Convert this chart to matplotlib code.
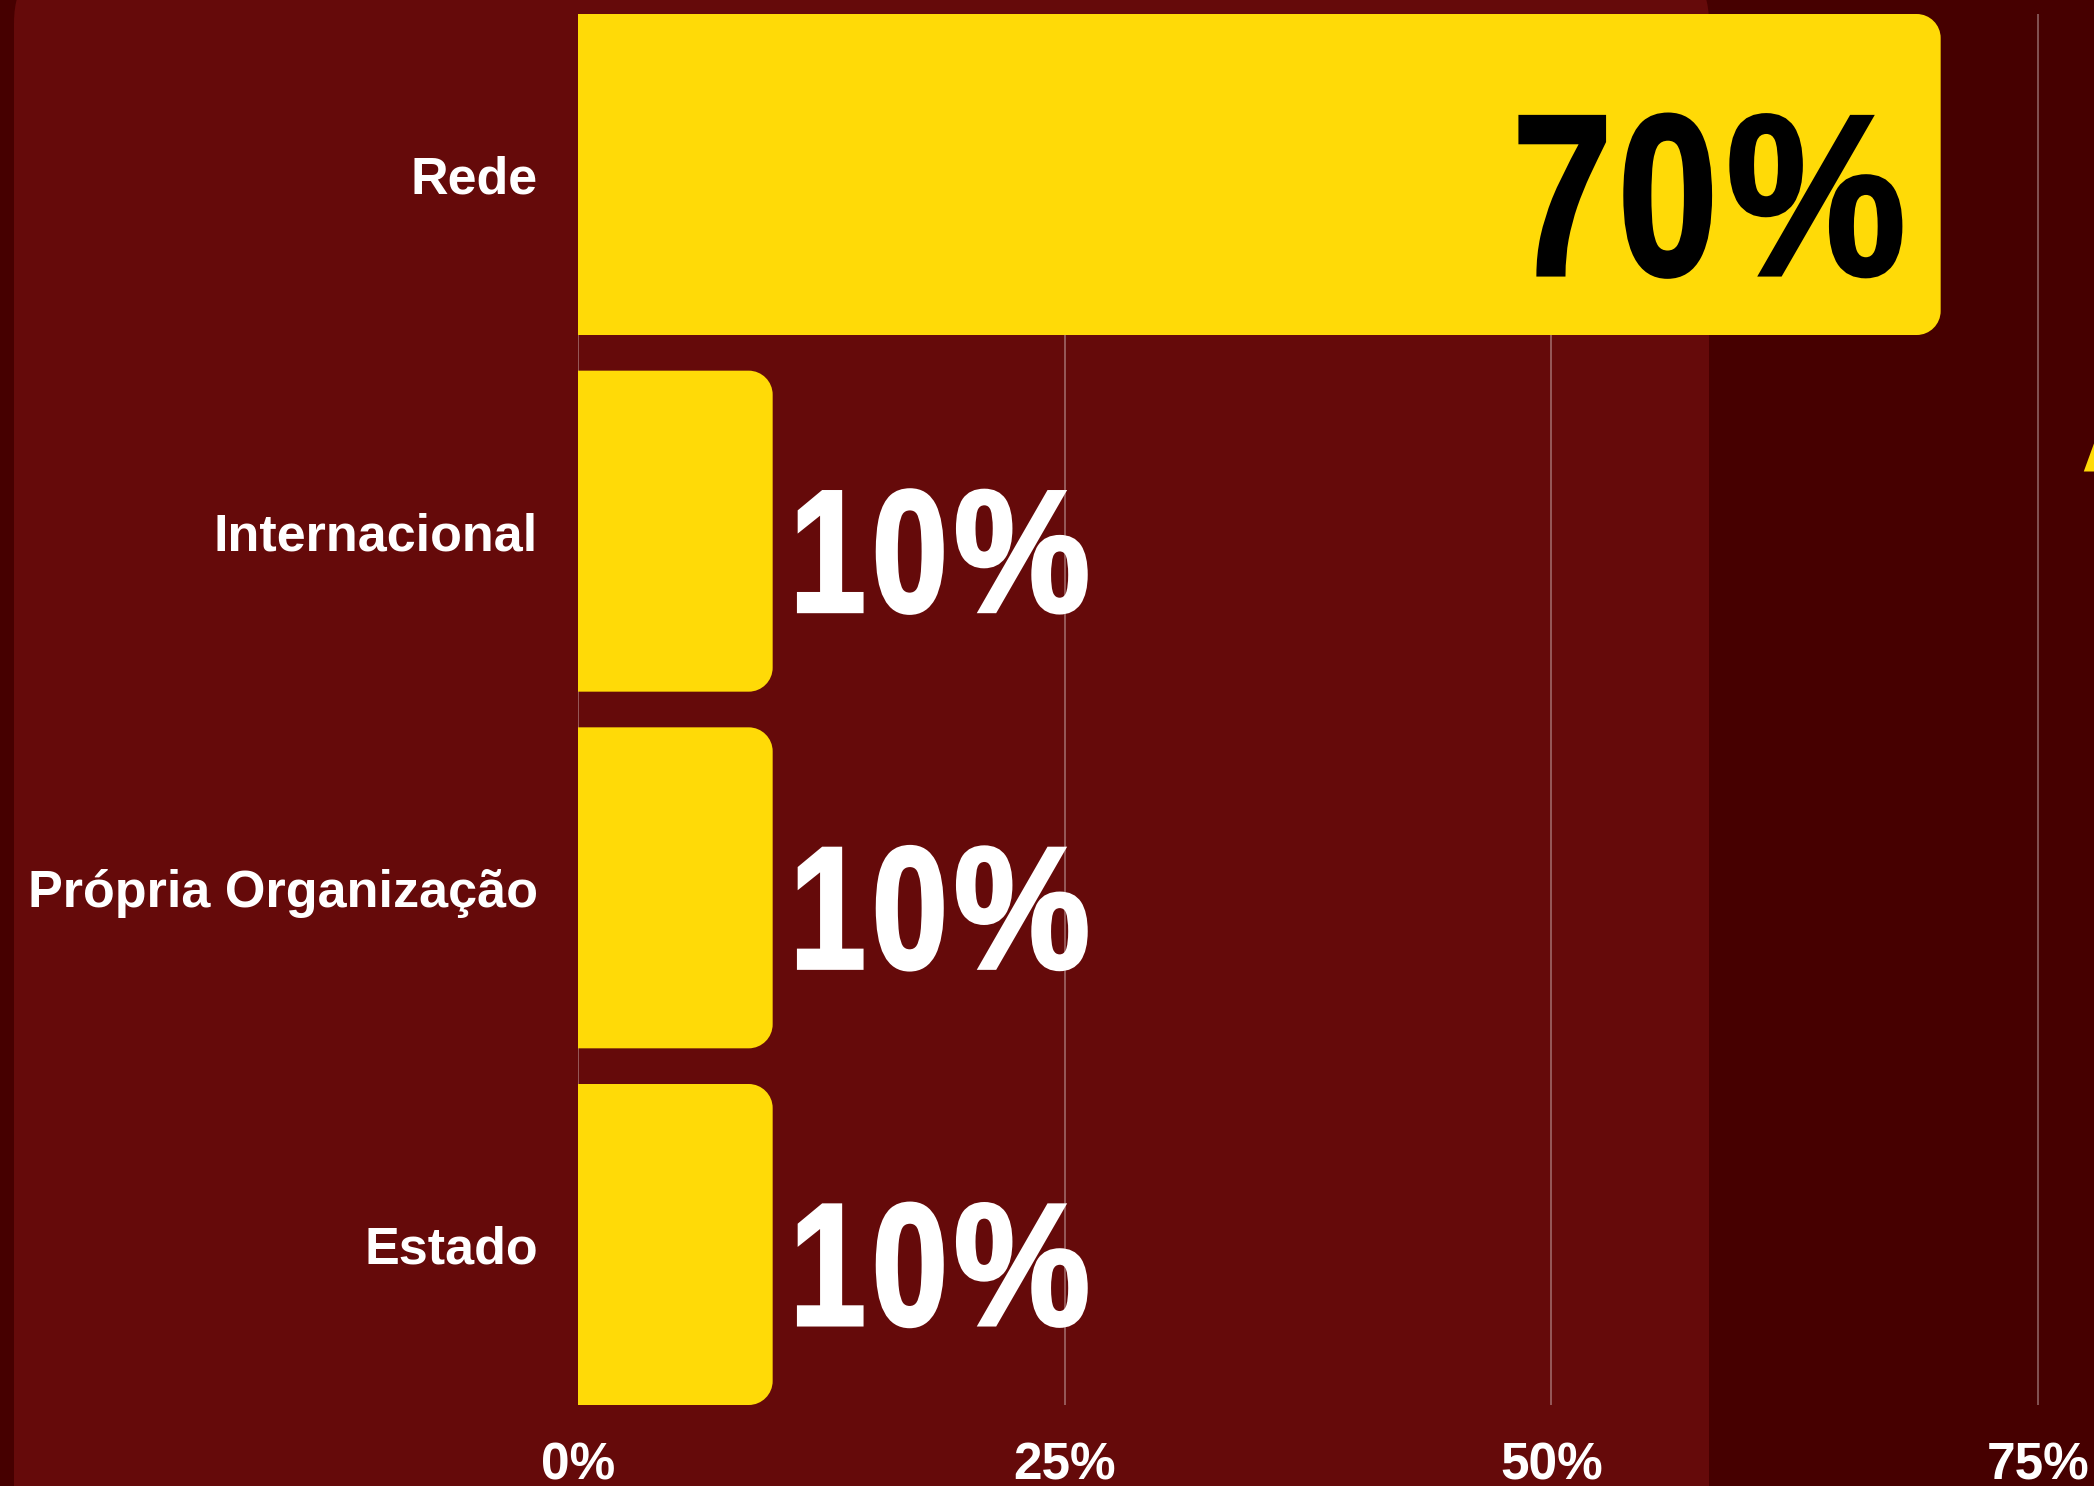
import matplotlib.pyplot as plt
from matplotlib.patches import FancyBboxPatch, PathPatch
from matplotlib.path import Path
from matplotlib.textpath import TextPath
from matplotlib.font_manager import FontProperties
from matplotlib.transforms import Affine2D, IdentityTransform

# data
categories = ['Rede', 'Internacional', 'Própria Organização', 'Estado']
values = [70, 10, 10, 10]
ticks = [0, 25, 50, 75]
tick_labels = ['0%', '25%', '50%', '75%']

W, H, DPI = 2094, 1486, 100
outer_bg = '#460000'
panel_bg = '#650A0A'
yellow = '#FFDA07'
label_font = ['Liberation Sans', 'DejaVu Sans']
bold_prop = FontProperties(family='Liberation Sans', weight='bold')

fig = plt.figure(figsize=(W / DPI, H / DPI), dpi=DPI, facecolor=outer_bg)

# inner panel of the infographic (runs past the top and bottom of the crop)
panel = FancyBboxPatch((14 / W, -0.1), (1709 - 14) / W, 1.1 + 40 / H,
                       boxstyle='round,pad=0,rounding_size=0.03',
                       mutation_aspect=W / H, transform=fig.transFigure,
                       facecolor=panel_bg, edgecolor='none', zorder=-5)
fig.patches.append(panel)

ax_left, ax_bottom = 578 / W, (H - 1405) / H
ax = fig.add_axes([ax_left, ax_bottom, 1 - ax_left, 1391 / H])
ax.set_facecolor('none')
ax.set_zorder(1)

n = len(categories)
ypos = list(range(n))
bar_h = 0.9
xmax = 75 * (W - 578) / (2038 - 578)
ax.set_xlim(0, xmax)
ax.set_ylim(n - 1 + bar_h / 2, -bar_h / 2)

# rounded right ends: radius in pixels converted to data units
r_px = 24
rx = r_px * xmax / (W - 578)
ry = r_px * (n - 1 + bar_h) / 1391
k = 0.5523


def right_rounded(x0, y0, w, h):
    x1, y1 = x0 + w, y0 + h
    verts = [(x0, y0), (x1 - rx, y0),
             (x1 - rx + k * rx, y0), (x1, y0 + ry - k * ry), (x1, y0 + ry),
             (x1, y1 - ry),
             (x1, y1 - ry + k * ry), (x1 - rx + k * rx, y1), (x1 - rx, y1),
             (x0, y1), (x0, y0)]
    codes = [Path.MOVETO, Path.LINETO,
             Path.CURVE4, Path.CURVE4, Path.CURVE4,
             Path.LINETO,
             Path.CURVE4, Path.CURVE4, Path.CURVE4,
             Path.LINETO, Path.CLOSEPOLY]
    return Path(verts, codes)


bars = ax.barh(ypos, values, height=bar_h, color=yellow, zorder=3)
for b in bars:
    ax.add_patch(PathPatch(right_rounded(b.get_x(), b.get_y(), b.get_width(), b.get_height()),
                           facecolor=yellow, edgecolor='none', zorder=3))
    b.set_visible(False)


def condensed_label(text, x, y, size_px, color, inside):
    # narrow display-style number: glyphs squeezed, spaced by their ink
    gap = 0.09 * size_px
    paths = []
    cursor = 0
    for ch in text:
        sx = 0.88 if ch == '%' else 0.78
        tp = TextPath((0, 0), ch, size=size_px, prop=bold_prop)
        p = Affine2D().scale(sx, 1).transform_path(tp)
        e = p.get_extents()
        paths.append(Affine2D().translate(cursor - e.x0, 0).transform_path(p))
        cursor += e.width + gap
    full = Path.make_compound_path(*paths)
    ext = full.get_extents()
    px, py = ax.transData.transform((x, y))
    cap = 0.716 * size_px
    base = py - 18 - cap / 2
    if inside:
        tx = px - 40 - ext.x1
    else:
        tx = px + 26 - ext.x0
    ax.add_patch(PathPatch(Affine2D().translate(tx, base).transform_path(full),
                           transform=IdentityTransform(),
                           facecolor=color, edgecolor=color, linewidth=2.5,
                           zorder=4, clip_on=False))


for y, v in zip(ypos, values):
    if v >= 50:
        condensed_label(f'{v}%', v, y, 230, 'black', True)
    else:
        condensed_label(f'{v}%', v, y, 174, 'white', False)

ax.set_yticks(ypos)
ax.set_yticklabels(categories, fontsize=37.5, fontweight='bold',
                   color='white', family=label_font)
ax.set_xticks(ticks)
ax.set_xticklabels(tick_labels, fontsize=37, fontweight='bold',
                   color='white', family=label_font)
ax.tick_params(axis='both', length=0)
ax.tick_params(axis='y', pad=29)
ax.tick_params(axis='x', pad=26)

ax.xaxis.grid(True, color='white', alpha=0.35, linewidth=1.3, zorder=1)
ax.set_axisbelow(True)
for s in ax.spines.values():
    s.set_visible(False)

# yellow fragment of a title at the right edge
fig.text(2080 / W, (H - 471) / H, 'A', color=yellow, fontsize=80,
         fontweight='bold', family=label_font, ha='left', va='baseline')

fig.savefig('out.png', dpi=DPI, facecolor=outer_bg)
